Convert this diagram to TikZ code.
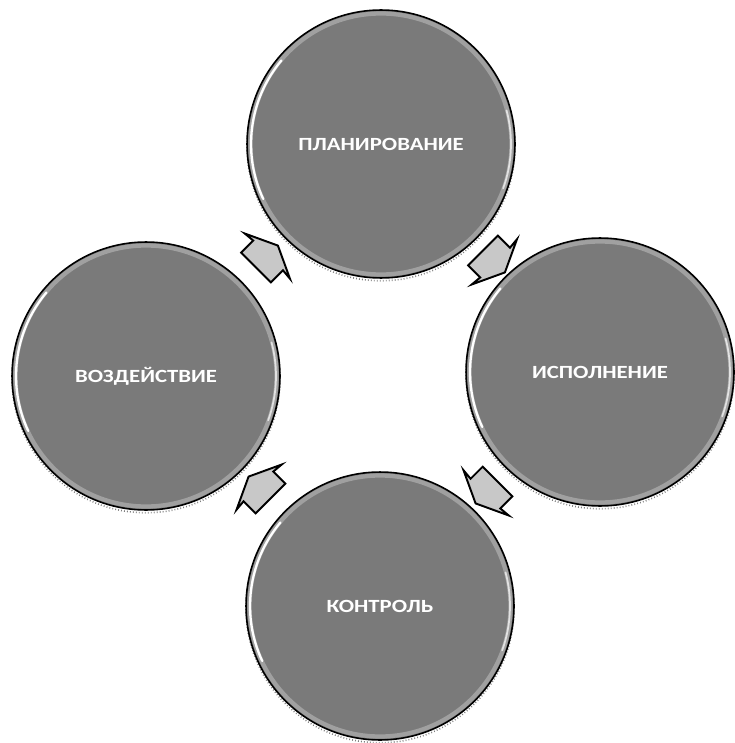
\documentclass[tikz,border=0pt]{standalone}
\usepackage{fontspec}
\usepackage{tikz}
\usetikzlibrary{shapes.arrows,shadows,calc}
\newfontfamily\labelfont{Carlito}[FakeStretch=1.22]
\definecolor{circgray}{RGB}{122,122,122}
\definecolor{ringgray}{RGB}{160,160,160}
\definecolor{arrowgray}{RGB}{200,200,200}

\begin{document}
\begin{tikzpicture}[x=0.02cm, y=-0.02cm,
    stage/.style={circle, draw=black, line width=0.9pt, fill=circgray,
        minimum size=5.36cm, inner sep=0pt, text=white,
        font=\labelfont\bfseries\fontsize{10.6}{12}\selectfont,
        drop shadow={opacity=1, fill=none, draw=gray,
            dash pattern=on 0.5pt off 1.2pt, shadow xshift=0pt, shadow yshift=-1.6pt}},
    flowarrow/.style={single arrow, draw=black, line width=1.1pt, fill=arrowgray,
        minimum height=0.62cm, inner xsep=0pt, inner ysep=0.4cm,
        single arrow head extend=0.22cm, single arrow tip angle=130,
        single arrow head indent=0.02cm}]
    \useasboundingbox (0,0) rectangle (734,743);

    % the four stages
    \node[stage] (plan) at (381,144) {ПЛАНИРОВАНИЕ};
    \node[stage] (exec) at (600,372) {ИСПОЛНЕНИЕ};
    \node[stage] (ctrl) at (380,606) {КОНТРОЛЬ};
    \node[stage] (infl) at (146,376) {ВОЗДЕЙСТВИЕ};

    % glossy rim
    \foreach \n in {plan,exec,ctrl,infl} {
        \draw[ringgray, line width=2.4pt] (\n.center) circle (2.61cm);
        \draw[white, line width=1.3pt, line cap=round]
            ([shift={(140:2.6cm)}]\n.center) arc (140:205:2.6cm);
        \draw[white!70!ringgray, line width=1pt, line cap=round]
            ([shift={(-20:2.6cm)}]\n.center) arc (-20:15:2.6cm);
    }

    % arrows between stages
    \node[flowarrow, rotate=45] (a1) at ($(infl)!0.5!(plan)$) {};
    \node[flowarrow, rotate=-45] (a2) at ($(plan)!0.5!(exec)$) {};
    \node[flowarrow, rotate=-135] (a3) at ($(exec)!0.5!(ctrl)$) {};
    \node[flowarrow, rotate=135] (a4) at ($(ctrl)!0.5!(infl)$) {};
\end{tikzpicture}
\end{document}
